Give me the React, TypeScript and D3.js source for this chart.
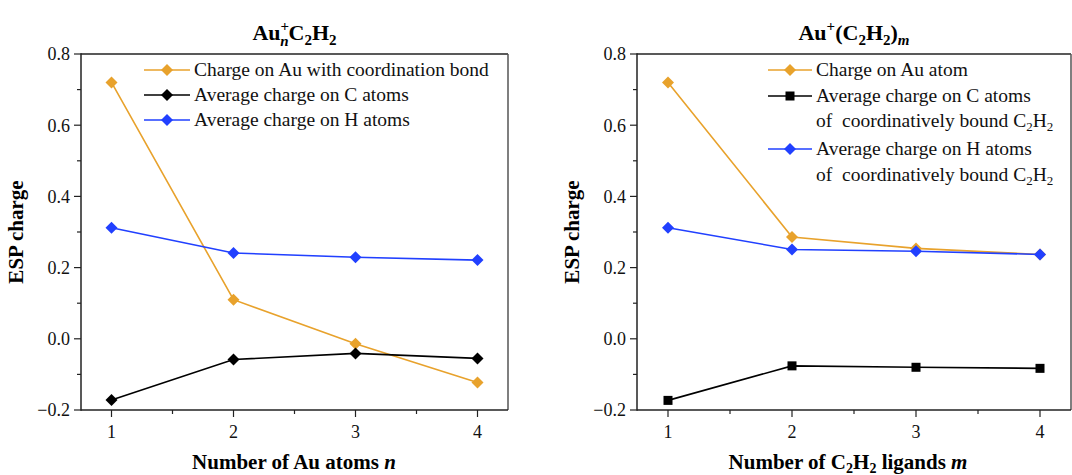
import React from "react";
import * as d3 from "d3";

const xValues = [1, 2, 3, 4];
const xTicks = [1, 2, 3, 4];
const yTicks = [-0.2, 0, 0.2, 0.4, 0.6, 0.8];
const yTickLabels = ["\u22120.2", "0.0", "0.2", "0.4", "0.6", "0.8"];

// Left panel: Au_n^+ C2H2
const leftAuCharge = [0.72, 0.11, -0.014, -0.123];
const leftCCharge = [-0.172, -0.058, -0.041, -0.055];
const leftHCharge = [0.312, 0.241, 0.229, 0.221];

// Right panel: Au^+(C2H2)_m
const rightAuCharge = [0.72, 0.286, 0.254, 0.237];
const rightCCharge = [-0.173, -0.076, -0.08, -0.083];
const rightHCharge = [0.312, 0.251, 0.246, 0.237];

const ORANGE = "#E8A22C";
const BLUE = "#2140FF";
const BLACK = "#000000";
const FONT = "'Liberation Serif', 'Times New Roman', serif";

type Series = { values: number[]; color: string; marker: "diamond" | "square" };

function Marker({ x, y, kind, color }: { x: number; y: number; kind: string; color: string }) {
  if (kind === "square") {
    return <rect x={x - 4.5} y={y - 4.5} width={9} height={9} fill={color} />;
  }
  const r = 6;
  return <path d={`M${x},${y - r}L${x + r},${y}L${x},${y + r}L${x - r},${y}Z`} fill={color} />;
}

function Panel({
  left, right, top, bottom, series, legend, title, xlabel, xlabelX,
}: {
  left: number; right: number; top: number; bottom: number;
  series: Series[];
  legend: React.ReactNode;
  title: React.ReactNode;
  xlabel: React.ReactNode;
  xlabelX: number;
}) {
  const x = d3.scaleLinear().domain([0.75, 4.25]).range([left, right]);
  const y = d3.scaleLinear().domain([-0.2, 0.8]).range([bottom, top]);
  const line = d3.line<number>().x((_, i) => x(xValues[i])).y((d) => y(d));
  const xMinor = [1.5, 2.5, 3.5];
  const yMinor = [-0.1, 0.1, 0.3, 0.5, 0.7];
  const cx = (left + right) / 2;
  const cy = (top + bottom) / 2;
  return (
    <g fontFamily={FONT}>
      {/* frame */}
      <line x1={left} x2={right} y1={top} y2={top} stroke="#222" strokeWidth={1.5} />
      <line x1={right} x2={right} y1={top} y2={bottom} stroke="#555" strokeWidth={1.5} />
      <line x1={left} x2={left} y1={top - 0.75} y2={bottom + 0.75} stroke="#222" strokeWidth={1.5} />
      <line x1={left} x2={right} y1={bottom} y2={bottom} stroke="#222" strokeWidth={1.5} />
      {/* y ticks */}
      {yTicks.map((t, i) => (
        <g key={"yt" + i}>
          <line x1={left - 7} x2={left} y1={y(t)} y2={y(t)} stroke="#222" strokeWidth={1.2} />
          <text x={left - 11} y={y(t)} dy="0.35em" textAnchor="end" fontSize={18} fill="#111">
            {yTickLabels[i]}
          </text>
        </g>
      ))}
      {yMinor.map((t, i) => (
        <line key={"ym" + i} x1={left - 4} x2={left} y1={y(t)} y2={y(t)} stroke="#222" strokeWidth={1.2} />
      ))}
      {/* x ticks */}
      {xTicks.map((t, i) => (
        <g key={"xt" + i}>
          <line x1={x(t)} x2={x(t)} y1={bottom} y2={bottom + 7} stroke="#222" strokeWidth={1.2} />
          <text x={x(t)} y={bottom + 28} textAnchor="middle" fontSize={18} fill="#111">
            {t}
          </text>
        </g>
      ))}
      {xMinor.map((t, i) => (
        <line key={"xm" + i} x1={x(t)} x2={x(t)} y1={bottom} y2={bottom + 4} stroke="#222" strokeWidth={1.2} />
      ))}
      {/* series */}
      {series.map((s, si) => (
        <g key={"s" + si}>
          <path d={line(s.values) || ""} fill="none" stroke={s.color} strokeWidth={1.6} />
          {s.values.map((v, i) => (
            <Marker key={i} x={x(xValues[i])} y={y(v)} kind={s.marker} color={s.color} />
          ))}
        </g>
      ))}
      {legend}
      {/* title */}
      <text x={cx} y={40} textAnchor="middle" fontSize={22} fontWeight="bold" fill="#000">
        {title}
      </text>
      {/* x label */}
      <text x={xlabelX} y={469} textAnchor="middle" fontSize={21} fontWeight="bold" fill="#000">
        {xlabel}
      </text>
      {/* y label */}
      <text
        transform={`translate(${left - 58},${cy}) rotate(-90)`}
        textAnchor="middle"
        fontSize={21}
        fontWeight="bold"
        fill="#000"
      >
        ESP charge
      </text>
    </g>
  );
}

function LegendRow({ x0, x1, y, color, kind, children }: { x0: number; x1: number; y: number; color: string; kind: string; children: React.ReactNode }) {
  return (
    <g>
      <line x1={x0} x2={x1} y1={y} y2={y} stroke={color} strokeWidth={1.6} />
      <Marker x={(x0 + x1) / 2} y={y} kind={kind} color={color} />
      <text x={x1 + 4} y={y} dy="0.33em" fontSize={19.5} fill="#111" fontFamily={FONT}>
        {children}
      </text>
    </g>
  );
}

function C2H2() {
  return (
    <>
      C<tspan fontSize={13} dy={4}>2</tspan>
      <tspan dy={-4}>H</tspan>
      <tspan fontSize={13} dy={4}>2</tspan>
      <tspan dy={-4}></tspan>
    </>
  );
}

export default function App() {
  const top = 54;
  const bottom = 410;
  const leftSeries: Series[] = [
    { values: leftAuCharge, color: ORANGE, marker: "diamond" },
    { values: leftCCharge, color: BLACK, marker: "diamond" },
    { values: leftHCharge, color: BLUE, marker: "diamond" },
  ];
  const rightSeries: Series[] = [
    { values: rightAuCharge, color: ORANGE, marker: "diamond" },
    { values: rightCCharge, color: BLACK, marker: "square" },
    { values: rightHCharge, color: BLUE, marker: "diamond" },
  ];
  const leftLegend = (
    <g>
      <LegendRow x0={144} x1={190} y={70} color={ORANGE} kind="diamond">Charge on Au with coordination bond</LegendRow>
      <LegendRow x0={144} x1={190} y={95} color={BLACK} kind="diamond">Average charge on C atoms</LegendRow>
      <LegendRow x0={144} x1={190} y={120} color={BLUE} kind="diamond">Average charge on H atoms</LegendRow>
    </g>
  );
  const rightLegend = (
    <g>
      <LegendRow x0={768} x1={812} y={70} color={ORANGE} kind="diamond">Charge on Au atom</LegendRow>
      <LegendRow x0={768} x1={812} y={96} color={BLACK} kind="square">Average charge on C atoms</LegendRow>
      <text x={816} y={121} dy="0.33em" fontSize={19.5} fill="#111" fontFamily={FONT}>
        of{"\u00a0 "}coordinatively bound <C2H2 />
      </text>
      <LegendRow x0={768} x1={812} y={149} color={BLUE} kind="diamond">Average charge on H atoms</LegendRow>
      <text x={816} y={175} dy="0.33em" fontSize={19.5} fill="#111" fontFamily={FONT}>
        of{"\u00a0 "}coordinatively bound <C2H2 />
      </text>
    </g>
  );
  const leftTitle = (
    <>
      Au<tspan fontSize={15} dy={-9}>+</tspan>
      <tspan fontSize={15} dx={-9} dy={15} fontStyle="italic">n</tspan>
      <tspan dy={-6}>C</tspan>
      <tspan fontSize={15} dy={5}>2</tspan>
      <tspan dy={-5}>H</tspan>
      <tspan fontSize={15} dy={5}>2</tspan>
    </>
  );
  const rightTitle = (
    <>
      Au<tspan fontSize={15} dy={-9}>+</tspan>
      <tspan dy={9}>(C</tspan>
      <tspan fontSize={15} dy={5}>2</tspan>
      <tspan dy={-5}>H</tspan>
      <tspan fontSize={15} dy={5}>2</tspan>
      <tspan dy={-5}>)</tspan>
      <tspan fontSize={15} dy={5} fontStyle="italic">m</tspan>
    </>
  );
  const leftX = (
    <>
      Number of Au atoms <tspan fontStyle="italic">n</tspan>
    </>
  );
  const rightX = (
    <>
      Number of C<tspan fontSize={14} dy={4}>2</tspan>
      <tspan dy={-4}>H</tspan>
      <tspan fontSize={14} dy={4}>2</tspan>
      <tspan dy={-4}> ligands </tspan>
      <tspan fontStyle="italic">m</tspan>
    </>
  );
  return (
    <svg width={1072} height={475} style={{ position: "absolute", left: 0, top: 0, background: "#fff" }}>
      <rect width={1072} height={475} fill="#fff" />
      <Panel left={81} right={508} top={top} bottom={bottom} series={leftSeries} legend={leftLegend} title={leftTitle} xlabel={leftX} xlabelX={294} />
      <Panel left={637} right={1071} top={top} bottom={bottom} series={rightSeries} legend={rightLegend} title={rightTitle} xlabel={rightX} xlabelX={848} />
    </svg>
  );
}
